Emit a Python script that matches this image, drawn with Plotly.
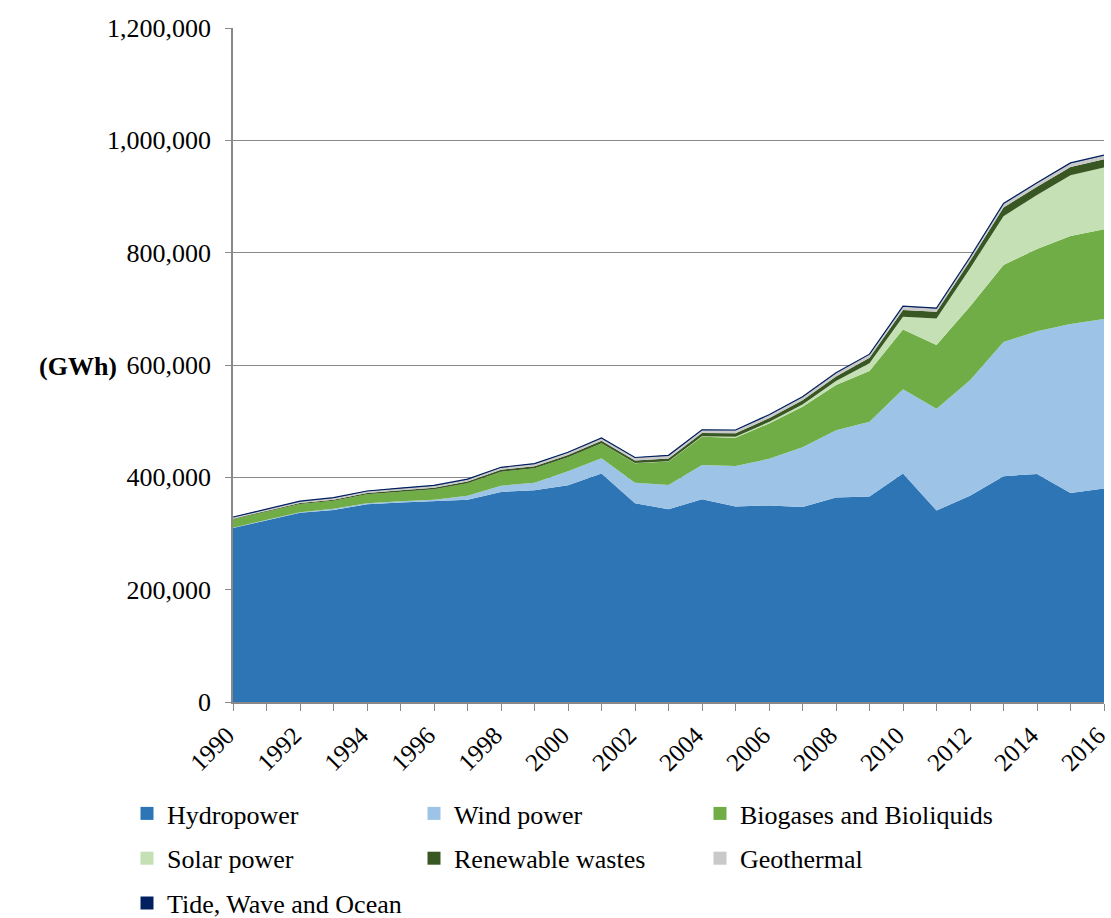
import plotly.graph_objects as go

years = list(range(1990, 2017))

hydropower = [310, 323, 337, 342, 352, 355, 357, 360, 374, 377, 386, 407, 354, 343,
              361, 348, 350, 347, 364, 366, 407, 341, 367, 402, 406, 372, 380]
wind_power = [0.3, 0.6, 1, 2, 2, 2.5, 3, 7, 11, 13.5, 25, 27, 36.5, 43.4,
              61, 72, 83, 106.5, 120, 133, 150, 181, 206, 239, 254, 301, 302]
biogases = [15, 15.4, 14.5, 14.4, 15.8, 17, 18.7, 22.4, 25, 25.5, 24.7, 26.6, 34.5, 41.6,
            50.4, 50.6, 63, 72.3, 80.4, 90.3, 106, 113.6, 131, 137, 146.6, 156.7, 159.6]
solar_power = [0, 0, 0, 0, 0, 0, 0, 0, 0, 0.1, 0.1, 0.2, 0.3, 0.5,
               0.8, 1.5, 2.5, 4, 7, 14, 23, 47, 68, 87, 96, 108, 110]
renewable_wastes = [1.0, 1.3, 1.6, 1.9, 2.2, 2.5, 2.8, 3.1, 3.4, 3.7, 4.0, 4.3, 4.7, 5.2,
                    5.8, 6.3, 6.8, 7.3, 8.3, 9.5, 12, 12, 13, 15.5, 14.8, 15, 14.8]
geothermal = [2.5, 2.7, 2.9, 3.0, 3.2, 3.4, 3.6, 3.8, 4.0, 4.2, 4.4, 4.6, 4.8, 5.0,
              5.2, 5.4, 5.6, 5.8, 5.9, 6.0, 6.2, 6.2, 6.3, 6.5, 6.6, 6.6, 6.7]
tide_wave_ocean = [0.5] * 27

# (name, values, colour, legend column)
series = [
    ("Hydropower", hydropower, "#2E75B6", "legend"),
    ("Wind power", wind_power, "#9DC3E6", "legend2"),
    ("Biogases and Bioliquids", biogases, "#70AD47", "legend3"),
    ("Solar power", solar_power, "#C5E0B4", "legend"),
    ("Renewable wastes", renewable_wastes, "#385723", "legend2"),
    ("Geothermal", geothermal, "#C9C9C9", "legend3"),
    ("Tide, Wave and Ocean", tide_wave_ocean, "#002060", "legend"),
]

fig = go.Figure()
for name, vals, color, _ in series:
    lw = 1.2 if name == "Tide, Wave and Ocean" else 0
    fig.add_trace(go.Scatter(
        x=years, y=[v * 1000 for v in vals], name=name, mode="lines",
        stackgroup="one", line=dict(width=lw, color=color),
        fillcolor=color, showlegend=False, hoverinfo="x+y+name"))

for name, vals, color, lg in series:
    fig.add_trace(go.Scatter(
        x=[None], y=[None], name=name, mode="markers",
        marker=dict(symbol="square", size=13, color=color),
        legend=lg, legendgroup=name, showlegend=True))

font_family = "Liberation Serif"
axis_col = "#898989"

L, R, T, B = 233, 7, 28, 216
W, H = 1111, 918
pw, ph = W - L - R, H - T - B


def px_x(p):
    return (p - L) / pw


def px_y(p):
    return (H - B - p) / ph


legend_common = dict(orientation="v", xanchor="left", yanchor="top",
                     itemwidth=30, tracegroupgap=8,
                     font=dict(family=font_family, size=26, color="black"),
                     bgcolor="rgba(0,0,0,0)", traceorder="grouped")

legend_top = 790

fig.update_layout(
    width=W, height=H,
    margin=dict(l=L, r=R, t=T, b=B, autoexpand=False),
    paper_bgcolor="white", plot_bgcolor="white",
    font=dict(family=font_family, size=26, color="black"),
    xaxis=dict(range=[1990, 2016], tickmode="linear", tick0=1990, dtick=2,
               tickangle=-45, ticks="outside", ticklen=7, tickcolor=axis_col,
               showline=True, linecolor=axis_col, linewidth=1.5, showgrid=False,
               zeroline=False, ticklabeloverflow="allow", automargin=False,
               ticklabelshift=-6,
               minor=dict(ticks="outside", dtick=1, ticklen=7, tickcolor=axis_col),
               tickfont=dict(family=font_family, size=25, color="black")),
    yaxis=dict(range=[0, 1200000], tickmode="linear", tick0=0, dtick=200000,
               tickformat=",", ticks="outside", ticklen=6, tickcolor=axis_col,
               showline=True, linecolor=axis_col, linewidth=1.5,
               showgrid=True, gridcolor=axis_col, gridwidth=1.2, zeroline=False,
               ticklabelstandoff=9, automargin=False,
               tickfont=dict(family=font_family, size=26, color="black")),
    legend=dict(x=px_x(127), y=px_y(legend_top), **legend_common),
    legend2=dict(x=px_x(414), y=px_y(legend_top), **legend_common),
    legend3=dict(x=px_x(700), y=px_y(legend_top), **legend_common),
    annotations=[dict(text="<b>(GWh)</b>", x=px_x(78), y=px_y(366),
                      xref="paper", yref="paper", xanchor="center", yanchor="middle",
                      showarrow=False,
                      font=dict(family=font_family, size=26, color="black"))],
)

fig.write_html("out.html", config={"displayModeBar": False},
               post_script="document.body.style.margin='0';document.body.style.padding='0';")
